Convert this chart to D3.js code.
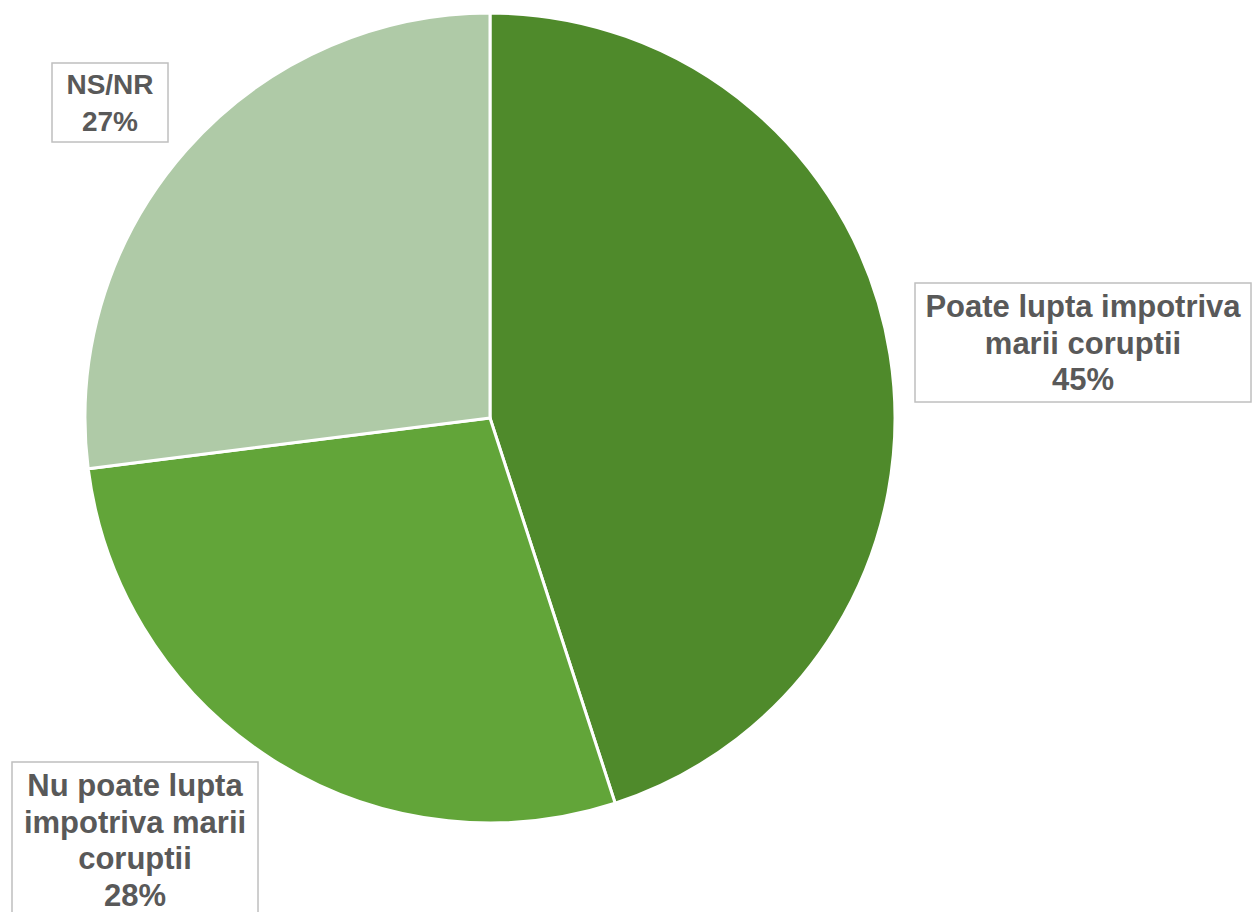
<!DOCTYPE html>
<html>
<head>
<meta charset="utf-8">
<script src="https://cdn.jsdelivr.net/npm/d3@7"></script>
<style>
    html, body { margin: 0; padding: 0; background: #fff; }
    svg { display: block; }
</style>
</head>
<body>
<svg id="chart" width="1253" height="912"></svg>
<script>
// data
var categories = ['Poate lupta impotriva marii coruptii', 'Nu poate lupta impotriva marii coruptii', 'NS/NR'];
var values = [45, 28, 27];
var labelLines = [
    ['Poate lupta impotriva', 'marii coruptii'],
    ['Nu poate lupta', 'impotriva marii', 'coruptii'],
    ['NS/NR']
];

var colors = ['#4f8a2b', '#62a539', '#afcaa7'];

// label boxes, placed by hand like the original
var labelBoxes = [
    {x: 915, y: 283, w: 336, h: 119, fs: 31},
    {x: 12, y: 762, w: 246, h: 156, fs: 31},
    {x: 52, y: 63, w: 116, h: 79, fs: 28}
];

var width = 1253, height = 912;
var cx = 490, cy = 418, radius = 405;
var lineH = 36.5;

var svg = d3.select('#chart');
var g = svg.append('g').attr('transform', 'translate(' + cx + ',' + cy + ')');

var pie = d3.pie().sort(null).value(function (d) { return d; });
var arc = d3.arc().innerRadius(0).outerRadius(radius);

g.selectAll('path.slice')
    .data(pie(values))
    .enter()
    .append('path')
    .attr('class', 'slice')
    .attr('d', arc)
    .attr('fill', function (d, i) { return colors[i]; })
    .attr('stroke', '#fff')
    .attr('stroke-width', 3);

// labels with boxes
var fmt = d3.format('.0%');
labelBoxes.forEach(function (b, i) {
    var lines = labelLines[i].concat([fmt(values[i] / 100)]);
    var lg = svg.append('g').attr('class', 'label');
    lg.append('rect')
        .attr('x', b.x)
        .attr('y', b.y)
        .attr('width', b.w)
        .attr('height', b.h)
        .attr('fill', '#fff')
        .attr('stroke', '#bfbfbf')
        .attr('stroke-width', 1.5);
    var startY = b.y + b.h / 2 - (lines.length - 1) * lineH / 2 + b.fs * 0.36;
    lg.selectAll('text')
        .data(lines)
        .enter()
        .append('text')
        .attr('x', b.x + b.w / 2)
        .attr('y', function (d, k) { return startY + k * lineH; })
        .attr('text-anchor', 'middle')
        .attr('font-family', 'Liberation Sans, Arial, sans-serif')
        .attr('font-weight', 'bold')
        .attr('font-size', b.fs)
        .attr('fill', '#595959')
        .text(function (d) { return d; });
});
</script>
</body>
</html>
